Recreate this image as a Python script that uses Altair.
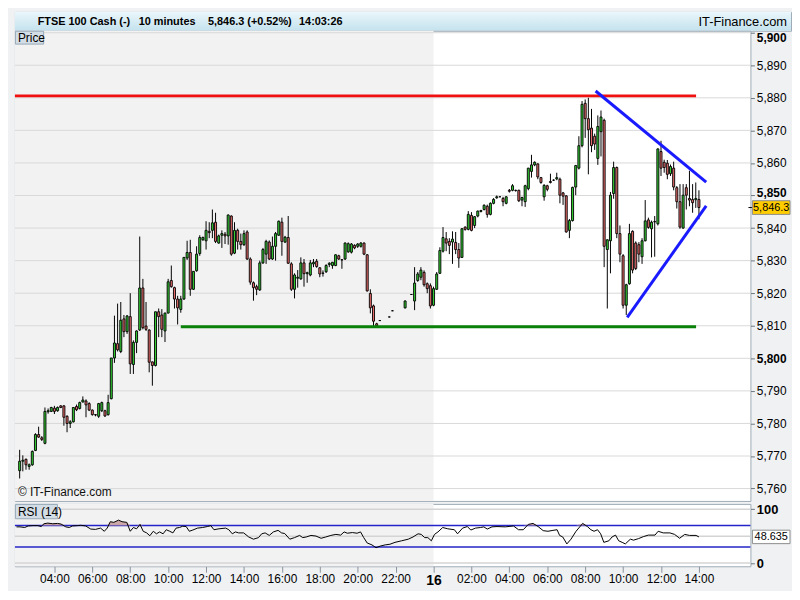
import altair as alt
import pandas as pd

# ---------------- data ----------------
# candle slots: 10-minute slots counted from 02:00 on day 1 (slot 132 = midnight, day 16)
candle_slots = list(range(1, 115)) + [115, 118, 119, 123, 125] + list(range(126, 217))

opens = [
    5765.5, 5768.4, 5769.0, 5766.8, 5767.3, 5771.7, 5776.6, 5775.6, 5773.9, 5783.6,
    5783.7, 5784.7, 5783.9, 5785.4, 5785.4, 5782.2, 5780.0, 5780.5, 5785.2, 5784.6,
    5786.6, 5786.9, 5786.1, 5784.1, 5782.7, 5782.2, 5783.9, 5783.9, 5782.7, 5787.6,
    5800.1, 5804.5, 5802.1, 5812.1, 5808.2, 5812.8, 5798.1, 5804.9, 5808.7, 5821.6,
    5809.9, 5808.7, 5798.9, 5797.8, 5814.3, 5813.3, 5808.4, 5813.9, 5823.9, 5821.7,
    5818.2, 5815.0, 5818.2, 5830.8, 5832.5, 5821.2, 5826.9, 5832.2, 5836.4, 5836.1,
    5839.0, 5839.3, 5841.8, 5835.4, 5837.8, 5838.1, 5837.6, 5843.7, 5832.3, 5839.3,
    5835.9, 5834.9, 5838.8, 5830.5, 5823.2, 5822.0, 5821.0, 5829.3, 5832.0, 5835.7,
    5830.5, 5834.4, 5837.8, 5841.8, 5835.7, 5837.1, 5829.0, 5821.2, 5824.6, 5824.4,
    5829.3, 5826.0, 5825.6, 5829.0, 5829.8, 5827.8, 5826.2, 5826.6, 5828.8, 5828.5,
    5828.5, 5831.5, 5830.3, 5830.5, 5832.7, 5832.6, 5834.7, 5834.4, 5834.4, 5835.4,
    5831.8, 5819.9, 5816.1, 5810.6,
    5811.6, 5812.7, 5814.6, 5815.5, 5819.6,
    5817.6, 5823.9, 5824.9, 5826.4, 5822.9, 5822.3, 5816.3, 5821.2, 5826.1, 5832.9,
    5836.7, 5835.9, 5835.7, 5835.6, 5833.4, 5831.0, 5840.3, 5839.6, 5843.9, 5840.8,
    5843.7, 5845.1, 5845.7, 5846.7, 5844.2, 5847.6, 5849.3, 5849.6, 5849.1, 5847.6,
    5851.6, 5851.6, 5851.6, 5851.6, 5848.6, 5848.1, 5852.1, 5857.4, 5859.4, 5859.7,
    5855.5, 5849.6, 5853.0, 5854.3, 5854.7, 5855.1, 5855.0, 5850.8, 5849.9, 5839.3,
    5842.3, 5852.6, 5858.4, 5865.3, 5878.3, 5873.6, 5870.7, 5868.2, 5861.4, 5869.6,
    5873.1, 5833.4, 5836.1, 5850.6, 5858.6, 5838.3, 5831.5, 5816.3, 5822.9, 5839.0,
    5835.4, 5834.9, 5831.2, 5836.1, 5842.5, 5839.8, 5842.0, 5841.3, 5863.5, 5860.2,
    5859.9, 5856.7, 5858.4, 5852.4, 5848.1, 5840.0, 5852.4, 5849.1, 5848.8, 5848.7, 5848.8,
]
highs = [
    5771.9, 5770.2, 5769.2, 5767.7, 5771.7, 5777.0, 5779.0, 5776.1, 5784.9, 5784.6,
    5785.1, 5785.4, 5785.2, 5785.6, 5785.6, 5782.5, 5781.0, 5785.0, 5785.8, 5786.7,
    5788.3, 5787.4, 5786.5, 5784.3, 5782.9, 5786.3, 5786.7, 5784.2, 5788.8, 5800.1,
    5813.1, 5816.8, 5817.3, 5813.3, 5813.3, 5820.0, 5805.5, 5808.6, 5837.4, 5824.4,
    5817.3, 5808.9, 5799.0, 5814.3, 5815.3, 5815.1, 5814.0, 5824.4, 5828.5, 5822.0,
    5819.2, 5819.2, 5831.0, 5836.1, 5836.4, 5826.8, 5834.4, 5837.8, 5837.4, 5842.1,
    5841.8, 5845.7, 5844.7, 5838.0, 5839.3, 5838.8, 5844.2, 5843.9, 5841.8, 5839.8,
    5838.3, 5839.3, 5839.3, 5831.0, 5823.6, 5822.6, 5830.0, 5833.9, 5836.4, 5836.2,
    5837.4, 5838.8, 5842.3, 5843.2, 5837.6, 5843.7, 5829.5, 5826.1, 5827.1, 5831.0,
    5830.5, 5826.6, 5830.2, 5830.5, 5830.5, 5828.0, 5827.0, 5828.9, 5829.5, 5829.6,
    5831.9, 5831.8, 5830.5, 5835.6, 5835.6, 5835.4, 5835.0, 5835.4, 5835.7, 5835.6,
    5832.0, 5821.2, 5816.5, 5810.9,
    5811.7, 5812.8, 5814.7, 5817.8, 5819.7,
    5828.0, 5826.5, 5828.0, 5827.0, 5823.3, 5823.0, 5822.0, 5826.5, 5834.1, 5840.3,
    5838.8, 5836.9, 5839.0, 5838.8, 5835.4, 5840.0, 5840.5, 5845.2, 5844.9, 5843.7,
    5845.4, 5845.6, 5847.3, 5847.2, 5847.9, 5849.2, 5850.0, 5849.7, 5849.6, 5849.8,
    5852.0, 5853.5, 5851.8, 5851.8, 5849.6, 5853.3, 5858.5, 5862.5, 5860.5, 5859.9,
    5855.7, 5853.5, 5853.3, 5856.7, 5855.0, 5857.0, 5855.5, 5851.1, 5850.1, 5842.8,
    5852.7, 5859.4, 5868.2, 5879.0, 5879.5, 5880.0, 5876.6, 5869.0, 5874.6, 5876.1,
    5873.6, 5836.5, 5851.1, 5860.4, 5858.9, 5840.8, 5832.0, 5822.9, 5841.3, 5839.3,
    5835.9, 5835.7, 5836.9, 5848.6, 5843.2, 5842.3, 5843.7, 5864.5, 5866.8, 5861.0,
    5860.9, 5859.5, 5860.4, 5852.9, 5853.5, 5853.5, 5853.5, 5857.6, 5853.5, 5854.0, 5851.6,
]
lows = [
    5763.1, 5765.3, 5765.8, 5765.8, 5767.0, 5771.5, 5775.6, 5774.6, 5773.6, 5783.0,
    5783.5, 5782.9, 5783.6, 5784.7, 5779.3, 5777.3, 5778.6, 5780.3, 5783.8, 5784.3,
    5786.4, 5781.9, 5783.8, 5782.4, 5782.2, 5781.7, 5783.5, 5782.0, 5782.4, 5787.4,
    5798.6, 5802.1, 5801.6, 5806.5, 5807.5, 5795.2, 5795.2, 5801.6, 5808.4, 5808.9,
    5808.4, 5795.7, 5791.6, 5797.5, 5806.5, 5806.5, 5805.0, 5813.8, 5821.7, 5815.3,
    5810.4, 5814.0, 5818.0, 5830.2, 5819.2, 5821.0, 5826.6, 5831.5, 5836.1, 5833.4,
    5836.9, 5836.9, 5835.4, 5835.2, 5833.9, 5835.1, 5834.9, 5831.5, 5832.0, 5833.4,
    5833.4, 5834.5, 5830.2, 5822.6, 5817.7, 5819.4, 5820.7, 5829.0, 5829.0, 5830.2,
    5830.2, 5830.0, 5837.6, 5831.5, 5835.4, 5829.0, 5820.7, 5818.4, 5821.7, 5824.1,
    5822.0, 5823.2, 5825.2, 5828.0, 5827.8, 5824.9, 5825.1, 5826.2, 5828.0, 5827.5,
    5828.3, 5830.2, 5827.5, 5830.2, 5832.4, 5832.2, 5833.5, 5833.9, 5834.0, 5831.7,
    5820.5, 5813.8, 5809.9, 5809.6,
    5811.5, 5812.6, 5814.5, 5815.3, 5819.5,
    5814.8, 5823.5, 5824.0, 5822.0, 5820.0, 5815.3, 5816.0, 5821.0, 5825.9, 5832.5,
    5832.9, 5832.0, 5829.0, 5832.0, 5827.8, 5830.8, 5839.2, 5839.3, 5839.0, 5840.0,
    5843.3, 5844.8, 5845.4, 5843.2, 5843.9, 5847.3, 5849.0, 5849.5, 5846.7, 5847.3,
    5850.9, 5851.3, 5851.2, 5848.0, 5846.7, 5846.5, 5851.6, 5855.5, 5859.0, 5855.0,
    5853.6, 5848.4, 5851.3, 5853.7, 5854.5, 5854.7, 5847.6, 5847.1, 5838.6, 5836.9,
    5842.0, 5850.1, 5858.0, 5864.8, 5867.7, 5856.5, 5863.3, 5864.0, 5859.4, 5862.0,
    5828.0, 5815.3, 5826.1, 5849.0, 5836.9, 5829.5, 5815.3, 5813.3, 5822.6, 5826.1,
    5827.1, 5829.5, 5829.0, 5835.9, 5839.8, 5831.0, 5831.2, 5840.8, 5856.0, 5857.0,
    5855.0, 5856.0, 5851.6, 5846.0, 5839.8, 5839.8, 5845.7, 5846.7, 5844.7, 5846.2, 5842.7,
]
closes = [
    5768.4, 5768.7, 5767.3, 5767.3, 5771.4, 5776.6, 5775.8, 5775.1, 5783.7, 5783.9,
    5784.9, 5783.7, 5784.9, 5784.9, 5781.9, 5780.0, 5780.5, 5784.9, 5784.2, 5786.4,
    5787.2, 5785.7, 5784.1, 5782.7, 5782.6, 5786.1, 5786.4, 5782.3, 5786.4, 5800.1,
    5804.7, 5802.6, 5811.7, 5808.2, 5813.0, 5798.3, 5804.9, 5808.4, 5821.6, 5809.4,
    5808.9, 5798.8, 5797.8, 5814.3, 5812.8, 5808.9, 5813.9, 5823.5, 5822.0, 5818.2,
    5815.5, 5818.2, 5831.0, 5832.5, 5821.2, 5826.7, 5832.0, 5837.1, 5837.1, 5839.3,
    5838.6, 5841.6, 5835.9, 5837.6, 5838.3, 5837.6, 5844.0, 5832.0, 5839.3, 5835.9,
    5834.9, 5838.3, 5830.5, 5823.4, 5821.7, 5821.2, 5829.3, 5833.4, 5835.9, 5830.5,
    5834.4, 5838.3, 5842.1, 5835.9, 5837.2, 5829.2, 5821.2, 5825.6, 5824.9, 5829.3,
    5826.0, 5826.3, 5829.3, 5829.5, 5828.2, 5825.9, 5826.1, 5828.5, 5829.2, 5829.5,
    5831.8, 5830.5, 5830.2, 5835.4, 5835.2, 5835.1, 5833.9, 5835.1, 5835.4, 5832.0,
    5820.7, 5815.5, 5811.4, 5810.0,
    5811.6, 5812.7, 5814.6, 5817.6, 5819.6,
    5823.1, 5825.9, 5827.1, 5822.6, 5821.4, 5816.1, 5821.4, 5825.9, 5833.1, 5837.1,
    5835.4, 5834.7, 5836.6, 5833.4, 5830.8, 5839.8, 5839.6, 5844.2, 5839.3, 5843.5,
    5845.2, 5845.4, 5847.0, 5844.2, 5847.6, 5848.8, 5849.6, 5849.6, 5848.1, 5849.6,
    5851.3, 5853.0, 5851.5, 5848.4, 5849.4, 5853.0, 5858.4, 5859.4, 5860.2, 5855.7,
    5854.0, 5853.1, 5851.9, 5854.0, 5854.7, 5855.5, 5850.1, 5849.8, 5838.8, 5842.3,
    5852.5, 5859.2, 5865.3, 5878.0, 5873.6, 5870.2, 5865.3, 5865.8, 5871.2, 5874.1,
    5834.4, 5836.4, 5850.1, 5858.6, 5838.3, 5832.0, 5816.3, 5822.6, 5838.3, 5827.1,
    5827.6, 5832.0, 5836.1, 5842.2, 5840.2, 5841.8, 5841.9, 5864.3, 5858.4, 5858.6,
    5856.5, 5858.9, 5852.6, 5848.1, 5840.3, 5850.1, 5850.1, 5848.6, 5847.8, 5849.1, 5846.3,
]

rsi_slots = [
    0, 1.1, 2.6, 3.7, 5.2, 6.8, 7.8, 8.7, 9.9, 11.5, 13.0, 14.1, 15.6, 16.7, 17.7, 19.3, 20.3, 21.9,
    23.5, 25.0, 26.6, 27.8, 28.7, 29.7, 30.8, 32.3, 33.4, 34.9, 36.0, 37.0, 38.0, 39.1, 40.1, 41.2,
    42.2, 43.3, 44.3, 45.3, 46.4, 47.4, 48.5, 49.5, 50.5, 51.6, 52.6, 53.7, 54.7, 55.8, 57.3, 58.9,
    60.4, 61.5, 62.5, 64.1, 66.2, 67.2, 68.3, 69.3, 70.3, 71.9, 73.5, 75.0, 76.6,
    77.6, 78.7, 80.0, 81.3, 82.8, 83.9, 84.9, 86.5, 88.0, 89.6, 90.6, 91.7, 93.2, 94.8, 96.4, 97.9,
    99.5, 101.1, 102.6, 103.7, 104.7, 106.3, 107.8, 108.9, 109.9, 111.0, 112.5, 113.8, 115.1, 116.7,
    118.2, 119.8, 121.9, 124.0, 125.5, 127.1, 128.1, 129.2, 130.2, 131.3, 132.3, 133.4, 134.9, 136.5,
    138.6, 139.6, 141.2, 142.7, 143.8, 145.3, 146.9, 147.9, 149.0, 150.5, 152.1,
    154.7, 157.3, 158.9, 160.4, 162.0, 163.5, 165.1, 166.7, 168.2, 169.8, 171.1, 171.9, 172.9, 174.2,
    175.5, 177.1, 179.2, 180.7, 181.8, 182.8, 183.9, 184.9, 185.9, 187.5, 188.5, 189.6, 190.6, 191.7,
    192.7, 194.3, 195.3, 196.9, 198.4, 200.0, 202.1, 203.1, 204.7, 206.8, 208.3, 209.9, 211.5, 213.0,
    215.1, 216.0,
]
rsi_values = [
    67.3, 67.3, 66.1, 69.0, 69.6, 69.6, 67.9, 73.1, 74.3, 73.1, 73.7, 72.5, 67.3, 66.1, 69.0, 69.6, 70.2, 69.0,
    63.2, 62.6, 65.0, 59.1, 65.0, 76.9, 75.7, 79.8, 76.9, 75.7, 59.1, 66.1, 63.7, 71.9, 59.1, 56.1,
    50.8, 59.1, 54.4, 57.9, 54.4, 62.0, 59.1, 56.1, 65.0, 66.1, 68.5, 67.9, 59.1, 61.4, 65.0, 66.1,
    67.9, 69.6, 62.0, 63.7, 65.0, 62.0, 54.4, 57.9, 56.1, 56.1, 48.5, 44.4, 47.3,
    54.4, 56.1, 51.4, 57.9, 60.8, 56.1, 54.9, 44.4, 47.3, 51.4, 47.3, 48.5, 51.4, 50.2, 46.1, 48.5,
    51.4, 53.3, 52.0, 57.9, 55.5, 56.7, 55.5, 57.9, 47.3, 37.3, 33.8, 28.5, 31.5, 33.8,
    35.0, 38.5, 41.4, 44.4, 48.5, 54.4, 53.3, 47.3, 47.3, 41.4, 53.3, 57.9, 66.1, 63.7,
    62.0, 54.4, 65.0, 67.9, 61.4, 65.0, 66.1, 67.3, 63.2, 67.3, 67.9,
    67.3, 69.0, 62.0, 62.0, 71.9, 73.7, 67.9, 60.3, 59.1, 60.8, 62.0, 51.4, 48.5, 35.6,
    44.4, 59.1, 73.7, 67.9, 62.0, 59.1, 62.0, 54.4, 38.5, 41.4, 48.5, 52.0, 41.4, 38.5,
    35.6, 44.4, 42.6, 45.5, 49.1, 52.0, 52.0, 59.1, 56.1, 56.1, 53.3, 46.1, 53.3, 51.4,
    51.4, 48.6,
]

price_grid = [5760, 5770, 5780, 5790, 5800, 5810, 5820, 5830, 5840, 5850, 5860, 5870, 5880, 5890, 5900]
rsi_grid = [0, 50, 100]
rsi_bands = [30, 70]
tick_slots = [12, 24, 36, 48, 60, 72, 84, 96, 108, 120, 132, 144, 156, 168, 180, 192, 204, 216]
tick_labels = ["04:00", "06:00", "08:00", "10:00", "12:00", "14:00", "16:00", "18:00", "20:00",
               "22:00", "16", "02:00", "04:00", "06:00", "08:00", "10:00", "12:00", "14:00"]
day_break_slot = 132

line_names = ["resistance", "resistance", "support", "support",
              "upper", "upper", "lower", "lower"]
line_slots = [-0.5, 215.1, 52.0, 215.1, 183.3, 218.3, 193.3, 218.3]
line_prices = [5880.6, 5880.6, 5809.7, 5809.7, 5882.1, 5854.1, 5812.6, 5846.8]
line_colors = {"resistance": "#f01010", "support": "#0a820a", "upper": "#1a1aff", "lower": "#1a1aff"}

last_price = 5846.3
last_price_label = "5,846.3"
last_rsi = 48.635
last_rsi_label = "48.635"

header_labels = ["FTSE 100 Cash (-)", "10 minutes", "5,846.3 (+0.52%)", "14:03:26"]
header_site = "IT-Finance.com"

# ---------------- layout ----------------
FULL_W = 784
W = 743
HH = 19
HP = 475
HR = 63
XDOM = [-0.5, 232.3]
PDOM = [5756.2, 5900.6]
RDOM = [-6, 110]

FONT = "Liberation Sans"
GREEN = "#33cc33"
RED = "#e66a6a"
ZERO_PAD = {"left": 0, "top": 0, "right": 0, "bottom": 0}

xs = alt.Scale(domain=XDOM, nice=False, zero=False)
ys = alt.Scale(domain=PDOM, nice=False, zero=False)
rs = alt.Scale(domain=RDOM, nice=False, zero=False)

price_axis = alt.Axis(
    orient="right", values=price_grid, format=",.0f", grid=False, domain=False,
    tickSize=4, tickColor="#6b7680", labelFontSize=12, labelColor="#000000",
    labelPadding=2, title=None, labelFont=FONT,
    labelFontWeight={"condition": {"test": "datum.value % 50 === 0", "value": "bold"}, "value": "normal"},
    labelOffset={"condition": [{"test": "datum.value >= 5900", "value": 5},
                               {"test": "datum.value === 5850", "value": -3}],
                 "value": 0},
)
rsi_axis = alt.Axis(
    orient="right", values=[0, 100], grid=False, domain=False, tickSize=4,
    tickColor="#6b7680", labelFontSize=13, labelFontWeight="bold", labelColor="#000000",
    labelPadding=2, title=None, labelFont=FONT,
)
label_expr = " : ".join(f"datum.value == {s} ? '{l}'" for s, l in zip(tick_slots, tick_labels)) + " : ''"
time_axis = alt.Axis(
    orient="bottom", values=tick_slots, labelExpr=label_expr, grid=False, domain=False,
    tickSize=6, tickColor="#8a939b", labelColor="#000000", labelPadding=1,
    labelOverlap=False, labelFlush=False, title=None, labelFont=FONT,
    labelFontSize={"condition": {"test": f"datum.value === {day_break_slot}", "value": 14}, "value": 12},
    labelFontWeight={"condition": {"test": f"datum.value === {day_break_slot}", "value": "bold"}, "value": "normal"},
)


def PX(field):
    return alt.X(f"{field}:Q", scale=xs, axis=None)


def PY(field):
    return alt.Y(f"{field}:Q", scale=ys, axis=price_axis)


def RX(field):
    return alt.X(f"{field}:Q", scale=xs, axis=time_axis)


def RY(field):
    return alt.Y(f"{field}:Q", scale=rs, axis=rsi_axis)


one = pd.DataFrame({"k": [0]})

# ---------------- header ----------------
grad = alt.Gradient(
    gradient="linear",
    stops=[alt.GradientStop(offset=0, color="#eaf6fb"), alt.GradientStop(offset=1, color="#c4e2ee")],
    x1=0, x2=0, y1=0, y2=1,
)
header_layers = [
    alt.Chart(one).mark_rect(color=grad).encode(
        x=alt.value(0), x2=alt.value(FULL_W), y=alt.value(0), y2=alt.value(HH)),
]
for pos, lab in zip([23, 125, 195, 287], header_labels):
    header_layers.append(
        alt.Chart(one).mark_text(text=lab, align="left", baseline="middle", fontSize=11,
                                 fontWeight="bold", font=FONT, color="#000000")
        .encode(x=alt.value(pos), y=alt.value(HH / 2 + 0.5)))
header_layers.append(
    alt.Chart(one).mark_text(text=header_site, align="right", baseline="middle", fontSize=13,
                             font=FONT, color="#000000")
    .encode(x=alt.value(FULL_W - 4), y=alt.value(HH / 2 + 0.5)))
header = alt.layer(*header_layers).properties(width=FULL_W, height=HH)

# ---------------- price panel ----------------
cdf = pd.DataFrame({"slot": candle_slots, "open": opens, "high": highs, "low": lows, "close": closes})
cdf["dir"] = ["up" if c >= o else "down" for o, c in zip(cdf["open"], cdf["close"])]
shade = pd.DataFrame({"x0": [XDOM[0]], "x1": [day_break_slot]})
lines_df = pd.DataFrame({"name": line_names, "slot": line_slots, "price": line_prices})
lp = pd.DataFrame({"p": [last_price], "top": [last_price + 2.1], "bot": [last_price - 2.1],
                   "label": [last_price_label]})

p_shade = alt.Chart(shade).mark_rect(color="#f2f2f2").encode(
    x=PX("x0"), x2="x1:Q", y=alt.value(0), y2=alt.value(HP))
p_grid = alt.Chart(pd.DataFrame({"p": price_grid})).mark_rule(
    color="#d9d9d9", strokeWidth=1).encode(y=PY("p"))
p_wick = alt.Chart(cdf).mark_rule(color="#000000", strokeWidth=1).encode(
    x=PX("slot"), y=PY("low"), y2="high:Q")
p_body = alt.Chart(cdf).transform_calculate(
    x0="datum.slot - 0.32", x1="datum.slot + 0.32"
).mark_rect(stroke="#000000", strokeWidth=0.9).encode(
    x=PX("x0"), x2="x1:Q", y=PY("open"), y2="close:Q",
    color=alt.Color("dir:N", scale=alt.Scale(domain=["up", "down"], range=[GREEN, RED]), legend=None))
p_lines = [
    alt.Chart(lines_df).transform_filter(alt.datum.name == nm).mark_line(
        strokeWidth=3, strokeCap="butt", color=col).encode(x=PX("slot"), y=PY("price"))
    for nm, col in line_colors.items()
]
p_mark_tick = alt.Chart(lp).mark_rule(color="#000000", strokeWidth=1).encode(
    x=alt.value(W - 2), x2=alt.value(W + 2), y=PY("p"))
p_mark_box = alt.Chart(lp).mark_rect(fill="#ffcc00", stroke="#8c8c8c", strokeWidth=1).encode(
    x=alt.value(W + 2), x2=alt.value(W + 40), y=PY("top"), y2="bot:Q")
p_mark_text = alt.Chart(lp).mark_text(align="center", baseline="middle", fontSize=11, font=FONT,
                                      color="#000000").encode(
    x=alt.value(W + 21), y=PY("p"), text="label:N")
p_label_box = alt.Chart(one).mark_rect(fill="#d3dde5", stroke="#97a8b7", strokeWidth=1).encode(
    x=alt.value(0.5), x2=alt.value(29), y=alt.value(0.5), y2=alt.value(13.5))
p_label_text = alt.Chart(one).mark_text(text="Price", align="left", baseline="middle", fontSize=12,
                                        font=FONT, color="#000000").encode(
    x=alt.value(3), y=alt.value(7.5))
p_copy = alt.Chart(one).mark_text(text="© IT-Finance.com", align="left", baseline="middle",
                                  fontSize=12, font=FONT, color="#111111").encode(
    x=alt.value(3), y=alt.value(HP - 9))

price = alt.layer(p_shade, p_grid, p_wick, p_body, *p_lines, p_mark_tick, p_mark_box, p_mark_text,
                  p_label_box, p_label_text, p_copy).properties(width=W, height=HP)

# ---------------- RSI panel ----------------
rdf = pd.DataFrame({"slot": rsi_slots, "v": rsi_values})
lr = pd.DataFrame({"v": [last_rsi], "top": [last_rsi + 12.5], "bot": [last_rsi - 12.5],
                   "label": [last_rsi_label]})

r_shade = alt.Chart(shade).mark_rect(color="#f2f2f2").encode(
    x=RX("x0"), x2="x1:Q", y=alt.value(0), y2=alt.value(HR))
r_grid = alt.Chart(pd.DataFrame({"v": rsi_grid})).mark_rule(color="#d4d4d4", strokeWidth=1.5).encode(
    y=RY("v"))
r_bands = alt.Chart(pd.DataFrame({"v": rsi_bands})).mark_rule(color="#2424c8", strokeWidth=1.5).encode(
    y=RY("v"))
r_fill = alt.Chart(rdf).transform_calculate(top="max(datum.v, 70)", base="70").mark_area(
    color="#c9a0a0", opacity=0.9).encode(x=RX("slot"), y=RY("top"), y2="base:Q")
r_line = alt.Chart(rdf).mark_line(color="#000000", strokeWidth=1).encode(x=RX("slot"), y=RY("v"))
r_box = alt.Chart(lr).mark_rect(fill="#ffffff", stroke="#8c8c8c", strokeWidth=1).encode(
    x=alt.value(W + 2), x2=alt.value(W + 40), y=RY("top"), y2="bot:Q")
r_text = alt.Chart(lr).mark_text(align="center", baseline="middle", fontSize=11, font=FONT,
                                 color="#000000").encode(
    x=alt.value(W + 21), y=RY("v"), text="label:N")
r_label_box = alt.Chart(one).mark_rect(fill="#d3dde5", stroke="#97a8b7", strokeWidth=1).encode(
    x=alt.value(0.5), x2=alt.value(43), y=alt.value(0.5), y2=alt.value(15))
r_label_text = alt.Chart(one).mark_text(text="RSI (14)", align="left", baseline="middle",
                                        fontSize=12, font=FONT, color="#000000").encode(
    x=alt.value(3), y=alt.value(8))

rsi = alt.layer(r_shade, r_grid, r_bands, r_fill, r_line, r_box, r_text, r_label_box,
                r_label_text).properties(width=W, height=HR)

chart = alt.vconcat(
    header,
    alt.vconcat(price, rsi, spacing=3, bounds="flush"),
    spacing=0,
    bounds="flush",
).properties(
    padding=ZERO_PAD
).configure(
    background="#eff1f3", font=FONT, padding=ZERO_PAD
).configure_view(fill="#ffffff", stroke="#9eabb6", strokeWidth=1)

chart.save("out.html", embed_options={"renderer": "svg", "actions": False, "padding": 0})
